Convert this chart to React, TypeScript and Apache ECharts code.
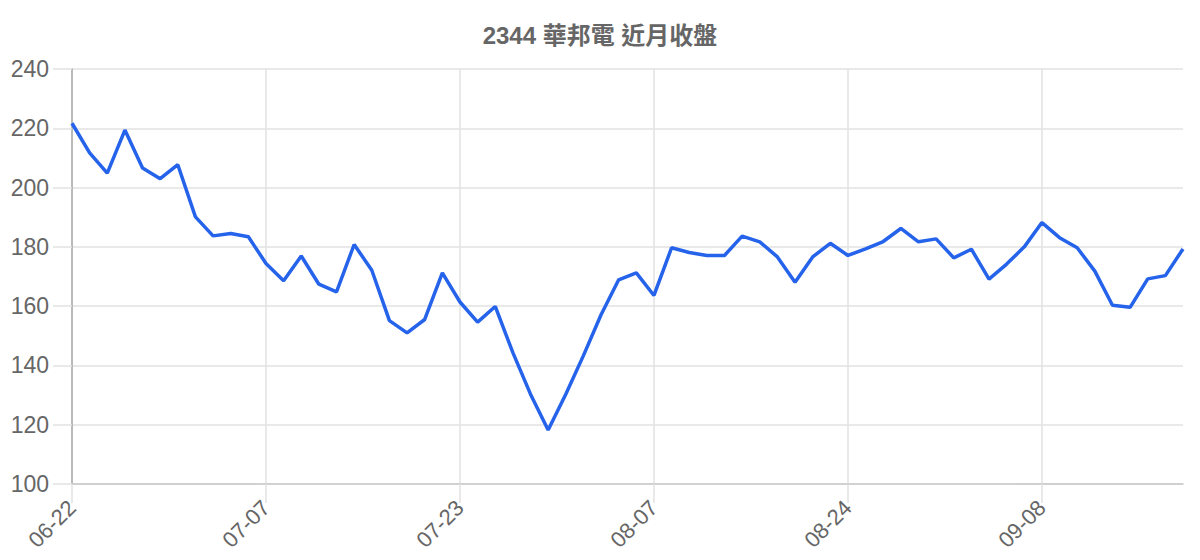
import { useEffect, useRef } from 'react';
import * as echarts from 'echarts';

const dates = [
  '06-22', '06-23', '06-24', '06-25', '06-28', '06-29', '06-30', '07-01', '07-02', '07-05', '07-06',
  '07-07', '07-08', '07-12', '07-13', '07-14', '07-15', '07-16', '07-19', '07-20', '07-21', '07-22',
  '07-23', '07-26', '07-27', '07-28', '07-29', '07-30', '08-02', '08-03', '08-04', '08-05', '08-06',
  '08-07', '08-10', '08-11', '08-12', '08-13', '08-16', '08-17', '08-18', '08-19', '08-20', '08-23',
  '08-24', '08-25', '08-26', '08-27', '08-30', '08-31', '09-01', '09-02', '09-03', '09-06', '09-07',
  '09-08', '09-09', '09-10', '09-13', '09-14', '09-15', '09-16', '09-17', '09-20',
];

const closes = [
  221.7, 211.7, 204.9, 219.4, 206.6, 203.0, 207.7, 190.1, 183.7, 184.5, 183.4,
  174.4, 168.6, 176.9, 167.4, 164.8, 180.8, 172.1, 155.1, 151.0, 155.5, 171.2,
  161.4, 154.6, 159.9, 144.3, 130.3, 118.2, 130.3, 143.3, 157.1, 168.9, 171.2,
  163.6, 179.7, 178.1, 177.1, 177.1, 183.6, 181.7, 176.6, 168.1, 176.6, 181.2,
  177.1, 179.3, 181.8, 186.2, 181.7, 182.7, 176.3, 179.2, 169.1, 174.2, 180.0,
  188.2, 183.1, 179.7, 171.8, 160.3, 159.6, 169.2, 170.3, 179.3,
];

const title = '2344 華邦電 近月收盤';
const font = '"Liberation Sans", Arial, "Noto Sans CJK TC", sans-serif';

export default function App() {
  const chartRef = useRef<HTMLDivElement>(null);

  useEffect(() => {
    if (!chartRef.current) return;

    const chart = echarts.init(chartRef.current, undefined, { renderer: 'svg' });

    const option = {
      animation: false,
      title: {
        text: title,
        left: 'center',
        top: 18,
        textStyle: {
          color: '#666666',
          fontSize: 24,
          fontWeight: 'bold',
          fontFamily: font,
        },
      },
      grid: {
        left: 72,
        right: 17,
        top: 69,
        bottom: 76,
      },
      xAxis: {
        type: 'category',
        boundaryGap: false,
        data: dates,
        axisLine: {
          lineStyle: { color: '#c8c8c8', width: 1.5 },
        },
        axisTick: {
          interval: 10,
          length: 19,
          lineStyle: { color: '#e2e2e2', width: 1.5 },
        },
        axisLabel: {
          interval: 10,
          rotate: 45,
          margin: 20,
          color: '#666666',
          fontSize: 22,
          fontFamily: font,
        },
        splitLine: {
          show: true,
          interval: 10,
          lineStyle: { color: '#e2e2e2', width: 1.5 },
        },
      },
      yAxis: {
        type: 'value',
        min: 100,
        max: 240,
        interval: 20,
        axisLine: {
          show: true,
          lineStyle: { color: '#a8a8a8', width: 1.5 },
        },
        axisTick: {
          show: true,
          length: 19,
          lineStyle: { color: '#e2e2e2', width: 1.5 },
        },
        axisLabel: {
          margin: 23,
          color: '#666666',
          fontSize: 23,
          fontFamily: font,
        },
        splitLine: {
          lineStyle: { color: '#e2e2e2', width: 1.5 },
        },
      },
      series: [
        {
          name: '收盤',
          type: 'line',
          data: closes,
          showSymbol: false,
          lineStyle: { color: '#2563eb', width: 3.5 },
          itemStyle: { color: '#2563eb' },
        },
      ],
    };

    chart.setOption(option);

    return () => {
      chart.dispose();
    };
  }, []);

  return (
    <div
      ref={chartRef}
      style={{ position: 'fixed', left: 0, top: 0, width: '1200px', height: '560px', background: '#ffffff' }}
    />
  );
}
